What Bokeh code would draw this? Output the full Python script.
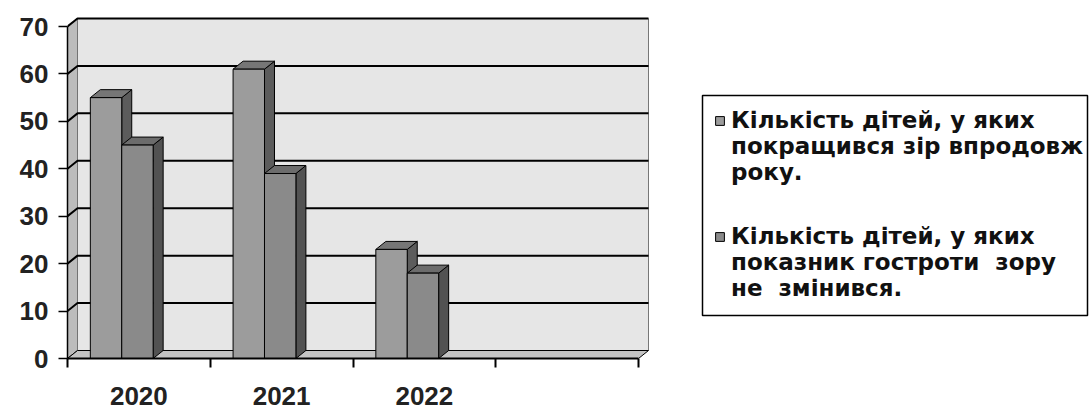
from bokeh.plotting import figure
from bokeh.models import Range1d, FixedTicker, Legend, LegendItem
from bokeh.embed import file_html
from bokeh.resources import INLINE

# ---------------- data ----------------
categories = ["2020", "2021", "2022", ""]
improved = [55, 61, 23]     # Кількість дітей, у яких покращився зір впродовж року
unchanged = [45, 39, 18]    # Кількість дітей, у яких показник гостроти зору не змінився
y_ticks = [0, 10, 20, 30, 40, 50, 60, 70]
series_labels = [
    "Кількість дітей, у яких\nпокращився зір впродовж\nроку.",
    "Кількість дітей, у яких\nпоказник гостроти  зору\nне  змінився.",
]

# ---------------- layout / style ----------------
W, H = 1091, 410
LEFT, BOTTOM = 67, 52
PX_X = 142.75            # pixels per category
PX_Y = 332 / 70          # pixels per unit
XMAX = (W - LEFT) / PX_X
YMAX = (H - BOTTOM) / PX_Y
DX = 10 / PX_X           # 3D depth offset (x)
DY = 8 / PX_Y            # 3D depth offset (y)
OFF, BW = 0.16, 0.22
NCAT = len(categories)
YTOP = y_ticks[-1]
FONT = "Liberation Sans"
BOX_PX = (702, 1087, 95, 315)      # legend frame: left, right, top, bottom (page px)
ENTRY_TOPS = [113, 229]            # page-px top of each legend entry
ENTRY_H = 72
FRAME_BOTTOM = H - BOTTOM

def sx(px):
    return (px - LEFT) / PX_X

def sy(py):
    return (FRAME_BOTTOM - py) / PX_Y

p = figure(width=W, height=H, output_backend="svg", toolbar_location=None,
           x_range=Range1d(0, XMAX), y_range=Range1d(0, YMAX),
           min_border_left=LEFT, min_border_right=0, min_border_top=0,
           min_border_bottom=BOTTOM)
p.outline_line_color = None
p.grid.visible = False
p.background_fill_color = "white"
p.border_fill_color = "white"

# ---- walls & floor ----
p.patch([0, DX, DX, 0], [0, DY, YTOP + DY, YTOP],
        fill_color="#bcbcbc", line_color="black", line_width=1)
p.quad(left=DX, right=NCAT + DX, bottom=DY, top=YTOP + DY,
       fill_color="#e6e6e6", line_color=None)
p.line([NCAT + DX, NCAT + DX], [DY, YTOP + DY], line_color="#777777", line_width=1)
p.patch([0, NCAT, NCAT + DX, DX], [0, 0, DY, DY],
        fill_color="#c4c4c4", line_color="black", line_width=1)
p.line([0, DX, NCAT + DX], [YTOP, YTOP + DY, YTOP + DY], line_color="black", line_width=2)
grid_vals = y_ticks[1:-1]
p.multi_line([[0, DX, NCAT + DX] for v in grid_vals],
             [[v, v + DY, v + DY] for v in grid_vals],
             line_color="black", line_width=2)

# ---- 3D bars ----
styles = [
    dict(front="#9c9c9c", top="#767676", side="#5c5c5c"),
    dict(front="#8a8a8a", top="#6c6c6c", side="#525252"),
]
front_renderers = []
for s, values in enumerate([improved, unchanged]):
    x0 = [i + OFF + s * BW for i in range(len(values))]
    x1 = [x + BW for x in x0]
    st = styles[s]
    p.patches([[a, a + DX, a + DX, a] for a in x1],
              [[0, DY, v + DY, v] for v in values],
              fill_color=st["side"], line_color="black", line_width=1)
    p.patches([[a, a + DX, b + DX, b] for a, b in zip(x0, x1)],
              [[v, v + DY, v + DY, v] for v in values],
              fill_color=st["top"], line_color="black", line_width=1)
    r = p.quad(left=x0, right=x1, bottom=0, top=values,
               fill_color=st["front"], line_color="black", line_width=1)
    front_renderers.append(r)

# invisible renderer used for legend rows that carry no marker
blank = p.quad(left=[], right=[], bottom=[], top=[], fill_alpha=0, line_alpha=0)

# legend frame
bl, br, bt, bb = BOX_PX
p.quad(left=sx(bl), right=sx(br), top=sy(bt), bottom=sy(bb),
       fill_color="white", line_color="black", line_width=1.5)

# ---- axes ----
ya = p.yaxis[0]
ya.ticker = FixedTicker(ticks=y_ticks)
ya.bounds = (0, YTOP)
ya.axis_line_color = "black"
ya.axis_line_width = 1.5
ya.major_tick_out = 9
ya.major_tick_in = 0
ya.major_tick_line_width = 1.5
ya.minor_tick_out = 0
ya.minor_tick_in = 0
ya.major_label_standoff = 10
ya.major_label_text_font = FONT
ya.major_label_text_font_style = "bold"
ya.major_label_text_font_size = "26px"
ya.major_label_text_color = "#222222"

xa = p.xaxis[0]
xa.ticker = FixedTicker(ticks=[i + 0.5 for i in range(NCAT)],
                        minor_ticks=list(range(NCAT + 1)))
xa.major_label_overrides = {i + 0.5: c for i, c in enumerate(categories)}
xa.bounds = (0, NCAT)
xa.axis_line_color = "black"
xa.axis_line_width = 2
xa.major_tick_out = 0
xa.major_tick_in = 0
xa.minor_tick_out = 9
xa.minor_tick_in = 0
xa.minor_tick_line_color = "black"
xa.minor_tick_line_width = 2
xa.major_label_standoff = 19
xa.major_label_text_font = FONT
xa.major_label_text_font_style = "bold"
xa.major_label_text_font_size = "26px"
xa.major_label_text_color = "#222222"

# ---- legend (one borderless legend per entry, inside the frame box) ----
for i, lab in enumerate(series_labels):
    first, rest = lab.split("\n", 1)
    items = [LegendItem(label=first, renderers=[front_renderers[i]]),
             LegendItem(label=rest, renderers=[blank])]
    leg = Legend(
        items=items,
        location=(bl + 12 - LEFT, FRAME_BOTTOM - (ENTRY_TOPS[i] + ENTRY_H)),
        orientation="vertical",
        label_text_font="DejaVu Sans", label_text_font_style="bold",
        label_text_font_size="23px", label_text_color="#111111",
        label_text_line_height=0.93,
        glyph_width=11, glyph_height=11, label_standoff=6,
        label_height=10, spacing=0, padding=0, margin=0,
        border_line_color=None, background_fill_alpha=0.0,
    )
    p.add_layout(leg)

open("out.html", "w").write(file_html(p, INLINE))
